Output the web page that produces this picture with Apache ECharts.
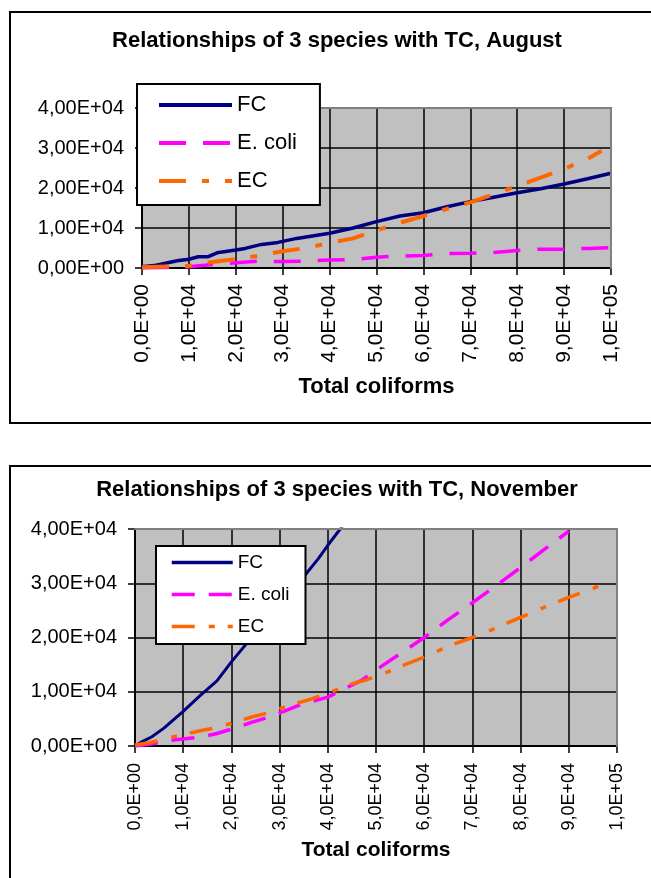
<!DOCTYPE html>
<html>
<head>
<meta charset="utf-8">
<script src="https://cdn.jsdelivr.net/npm/echarts@6/dist/echarts.min.js"></script>
<style>
  html, body { margin: 0; padding: 0; background: #fff; }
  #chart { width: 651px; height: 878px; }
</style>
</head>
<body>
<div id="chart"></div>
<script>
  const FONT = '"Liberation Sans", Arial, sans-serif'

  const xTicks = [0, 10000, 20000, 30000, 40000, 50000, 60000, 70000, 80000, 90000, 100000]
  const xLabels = ['0,0E+00', '1,0E+04', '2,0E+04', '3,0E+04', '4,0E+04', '5,0E+04',
    '6,0E+04', '7,0E+04', '8,0E+04', '9,0E+04', '1,0E+05']
  const yTicks = [0, 10000, 20000, 30000, 40000]
  const yLabels = ['0,00E+00', '1,00E+04', '2,00E+04', '3,00E+04', '4,00E+04']

  // August
  const augFcX = [0, 2500, 5000, 7500, 10000, 12000, 14000, 16000, 20000, 22000, 25500, 29000, 33000,
    40000, 45000, 50000, 55000, 60000, 65000, 70000, 75000, 80000, 85000, 90000, 95000, 100000]
  const augFcY = [300, 600, 1200, 1800, 2200, 2800, 2800, 3800, 4500, 4900, 5900, 6400, 7400,
    8700, 10000, 11600, 13000, 13800, 15300, 16600, 17700, 18800, 19800, 21000, 22300, 23700]
  const augEcoliX = [0, 5000, 10000, 15000, 20000, 25000, 30000, 35000, 40000, 45000, 50000,
    55000, 60000, 65000, 70000, 75000, 80000, 85000, 90000, 95000, 100000]
  const augEcoliY = [0, 100, 300, 900, 1300, 1700, 1600, 1700, 2000, 2100, 2700,
    3000, 3100, 3600, 3700, 3900, 4400, 4700, 4700, 4900, 5100]
  const augEcX = [0, 5000, 10000, 15000, 20000, 25000, 30000, 35000, 40000, 45000, 50000,
    55000, 60000, 65000, 70000, 75000, 80000, 85000, 90000, 95000, 98000]
  const augEcY = [200, 400, 500, 1500, 2200, 3100, 4200, 5000, 6300, 7400, 9400,
    11300, 13000, 14800, 16400, 18400, 20500, 22600, 24800, 27300, 29300]

  // November
  const novFcX = [0, 1500, 3500, 6000, 10000, 13500, 17000, 20000, 24000, 28000, 32000, 35000,
    38000, 40000, 43000, 46000]
  const novFcY = [0, 800, 1700, 3300, 6400, 9300, 12000, 15500, 19800, 24200, 28200, 31200,
    34500, 37000, 40500, 44000]
  const novEcoliX = [0, 3000, 8000, 14000, 17000, 20000, 24000, 28000, 34000, 40000, 44000,
    47000, 50000, 55000, 60000, 65000, 70000, 75000, 80000, 85000, 90000]
  const novEcoliY = [0, 300, 1100, 1700, 2300, 3100, 4300, 5400, 7500, 9000, 10800,
    12100, 14000, 17000, 20000, 23300, 26400, 29600, 32900, 36300, 39600]
  const novEcX = [0, 3000, 8000, 14000, 17000, 20000, 24000, 28000, 32000, 36000, 40000, 44000,
    48000, 52000, 56000, 60000, 65000, 70000, 75000, 80000, 85000, 90000, 95000, 98000]
  const novEcY = [200, 600, 1700, 2900, 3400, 4200, 5300, 6200, 7500, 8500, 9700, 11200,
    12200, 13500, 15000, 16400, 18400, 20000, 21800, 23700, 25600, 27400, 29000, 30300]

  const zip = (xs, ys) => xs.map((x, i) => [x, ys[i]])
  const fmtX = v => xLabels[xTicks.indexOf(v)] || ''
  const fmtY = v => yLabels[yTicks.indexOf(v)] || ''

  function mainX(gridIndex, fontSize, nameSize, nameGap, margin) {
    return {
      gridIndex: gridIndex, type: 'value', min: 0, max: 100000, interval: 10000, position: 'bottom',
      name: 'Total coliforms', nameLocation: 'middle', nameGap: nameGap, nameMoveOverlap: false,
      nameTextStyle: { fontFamily: FONT, fontWeight: 'bold', fontSize: nameSize, color: '#000' },
      axisLine: { onZero: false, lineStyle: { color: '#000', width: 2 } },
      axisTick: { show: true, length: 7, lineStyle: { color: '#000', width: 1.5 } },
      axisLabel: { rotate: 90, margin: margin, fontFamily: FONT, fontSize: fontSize, color: '#000', formatter: fmtX },
      splitLine: { show: true, lineStyle: { color: '#000', width: 1.5 } }
    }
  }
  function mainY(gridIndex, fontSize) {
    return {
      gridIndex: gridIndex, type: 'value', min: 0, max: 40000, interval: 10000, position: 'left',
      axisLine: { show: true, onZero: false, lineStyle: { color: '#000', width: 2 } },
      axisTick: { show: true, length: 7, lineStyle: { color: '#000', width: 1.5 } },
      axisLabel: { margin: 18, fontFamily: FONT, fontSize: fontSize, color: '#000', formatter: fmtY },
      splitLine: { show: true, lineStyle: { color: '#000', width: 1.5 } }
    }
  }
  function edgeAxis(gridIndex, position, max) {
    return {
      gridIndex: gridIndex, type: 'value', min: 0, max: max, position: position, z: 5,
      axisLine: { show: true, onZero: false, lineStyle: { color: '#808080', width: 2 } },
      axisTick: { show: false }, axisLabel: { show: false }, splitLine: { show: false }
    }
  }

  function line(name, xi, data, color, width, type) {
    return {
      name: name, type: 'line', xAxisIndex: xi, yAxisIndex: xi, data: data,
      symbol: 'none', itemStyle: { color: color },
      lineStyle: { color: color, width: width, type: type }
    }
  }

  function legend(top, left, fontSize, itemWidth, itemGap, padding, lineWidth, names) {
    return {
      orient: 'vertical', top: top, left: left, data: names, z: 20,
      itemWidth: itemWidth, itemHeight: fontSize, itemGap: itemGap, padding: padding,
      backgroundColor: '#fff', borderColor: '#000', borderWidth: 2, borderRadius: 0,
      selectedMode: false,
      itemStyle: { opacity: 0, borderWidth: 0 },
      lineStyle: { width: lineWidth },
      formatter: n => n.replace(/ \((Aug|Nov)\)$/, ''),
      textStyle: { fontFamily: FONT, fontSize: fontSize, color: '#000' }
    }
  }

  function title(text, y) {
    return {
      type: 'text', x: 337, y: y, z: 10,
      style: { text: text, font: 'bold 22px ' + FONT, fill: '#000',
        align: 'center', verticalAlign: 'middle', textAlign: 'center', textVerticalAlign: 'middle' }
    }
  }

  const option = {
    animation: false,
    graphic: [
      { type: 'rect', shape: { x: 10, y: 12, width: 700, height: 411 }, style: { fill: 'none', stroke: '#000', lineWidth: 2 } },
      { type: 'rect', shape: { x: 10, y: 466, width: 700, height: 500 }, style: { fill: 'none', stroke: '#000', lineWidth: 2 } },
      title('Relationships of 3 species with TC, August', 41),
      title('Relationships of 3 species with TC, November', 490)
    ],
    grid: [
      { left: 142, top: 108, width: 469, height: 160, show: true, backgroundColor: '#c0c0c0', borderColor: '#808080', borderWidth: 2 },
      { left: 135, top: 529, width: 482, height: 217, show: true, backgroundColor: '#c0c0c0', borderColor: '#808080', borderWidth: 2 }
    ],
    legend: [
      legend(84, 137, 22, 73, 16, [10, 23, 13, 20], 4, ['FC (Aug)', 'E. coli (Aug)', 'EC (Aug)']),
      legend(546, 156, 19, 61, 13, [7, 16, 8, 14], 3.5, ['FC (Nov)', 'E. coli (Nov)', 'EC (Nov)'])
    ],
    xAxis: [
      mainX(0, 21, 22, 108, 16), mainX(1, 18, 21, 94, 17),
      edgeAxis(0, 'top', 100000), edgeAxis(1, 'top', 100000)
    ],
    yAxis: [
      mainY(0, 20), mainY(1, 20),
      edgeAxis(0, 'right', 40000), edgeAxis(1, 'right', 40000)
    ],
    series: [
      line('FC (Aug)', 0, zip(augFcX, augFcY), '#000080', 3.5, 'solid'),
      line('E. coli (Aug)', 0, zip(augEcoliX, augEcoliY), '#ff00ff', 3.5, [27, 17]),
      line('EC (Aug)', 0, zip(augEcX, augEcY), '#ff6600', 4, [27, 16, 7, 16]),
      line('FC (Nov)', 1, zip(novFcX, novFcY), '#000080', 3, 'solid'),
      line('E. coli (Nov)', 1, zip(novEcoliX, novEcoliY), '#ff00ff', 3.5, [23, 14]),
      line('EC (Nov)', 1, zip(novEcX, novEcY), '#ff6600', 3.5, [23, 14, 6, 13])
    ]
  }

  const chart = echarts.init(document.getElementById('chart'))
  chart.setOption(option)
  window.addEventListener('resize', () => chart.resize())
</script>
</body>
</html>
